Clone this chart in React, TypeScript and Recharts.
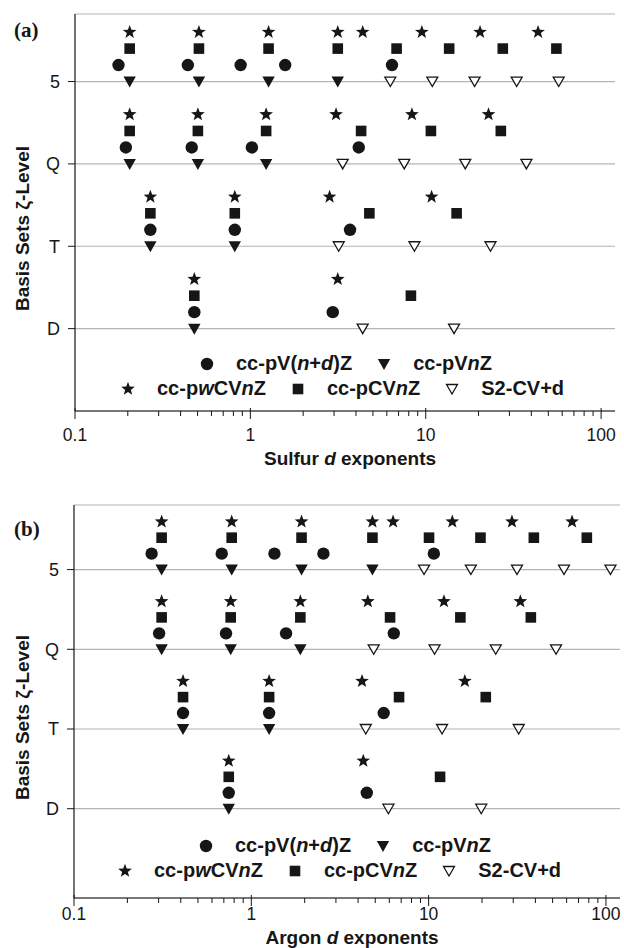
import React from 'react';
import { ScatterChart, Scatter, XAxis, YAxis, CartesianGrid, Legend, Label } from 'recharts';

// basis-set levels, bottom to top
const levels = ['D', 'T', 'Q', '5'];

// each list: exponents per level [D, T, Q, 5]
const sulfurPVndZ = [[0.479, 2.95], [0.269, 0.815, 3.7], [0.195, 0.463, 1.02, 4.15], [0.177, 0.44, 0.88, 1.58, 6.42]];
const sulfurPVnZ = [[0.479], [0.269, 0.815], [0.205, 0.502, 1.23], [0.205, 0.509, 1.27, 3.15]];
const sulfurPwCVnZ = [[0.479, 3.15], [0.269, 0.815, 2.83, 10.8], [0.205, 0.502, 1.23, 3.08, 8.34, 22.8], [0.205, 0.509, 1.27, 3.15, 4.37, 9.5, 20.4, 43.7]];
const sulfurPCVnZ = [[0.479, 8.23], [0.269, 0.815, 4.77, 15.0], [0.205, 0.502, 1.23, 4.28, 10.7, 26.8], [0.205, 0.509, 1.27, 3.15, 6.82, 13.6, 27.5, 55.6]];
const sulfurS2CVd = [[4.37, 14.5], [3.19, 8.62, 23.4], [3.36, 7.54, 16.8, 37.5], [6.28, 10.9, 19.0, 33.0, 57.3]];

const argonPVndZ = [[0.746, 4.48], [0.412, 1.26, 5.58], [0.302, 0.72, 1.57, 6.36], [0.274, 0.681, 1.35, 2.55, 10.7]];
const argonPVnZ = [[0.746], [0.412, 1.26], [0.312, 0.765, 1.89], [0.312, 0.775, 1.92, 4.82]];
const argonPwCVnZ = [[0.746, 4.28], [0.412, 1.26, 4.21, 16.0], [0.312, 0.765, 1.89, 4.54, 12.2, 32.9], [0.312, 0.775, 1.92, 4.82, 6.3, 13.6, 29.5, 64.4]];
const argonPCVnZ = [[0.746, 11.6], [0.412, 1.26, 6.81, 21.0], [0.312, 0.765, 1.89, 6.06, 15.1, 37.7], [0.312, 0.775, 1.92, 4.82, 10.05, 19.6, 39.2, 78.0]];
const argonS2CVd = [[5.93, 19.8], [4.42, 11.9, 32.2], [4.9, 10.8, 23.9, 52.3], [9.42, 17.3, 31.5, 58.0, 106]];

// vertical offset of each family above its level line
const offsets = { pVnZ: 0, pVndZ: 0.2, pCVnZ: 0.4, pwCVnZ: 0.6, s2: 0 };

const xTicks = [0.1, 0.2, 0.3, 0.4, 0.5, 0.6, 0.7, 0.8, 0.9, 1, 2, 3, 4, 5, 6, 7, 8, 9, 10, 20, 30, 40, 50, 60, 70, 80, 90, 100];
const majorTicks = [0.1, 1, 10, 100];

const ink = '#161616';
const sans = '"Liberation Sans", Arial, Helvetica, sans-serif';

const toPoints = (rows: number[][], offset: number) =>
  rows.flatMap((xs, i) => xs.map((x) => ({ x, y: i + 1 + offset })));

const starPath = (cx: number, cy: number, R: number, r: number) => {
  let d = '';
  for (let k = 0; k < 10; k++) {
    const a = (-90 + k * 36) * Math.PI / 180;
    const rad = k % 2 ? r : R;
    d += (k ? 'L' : 'M') + (cx + rad * Math.cos(a)).toFixed(2) + ',' + (cy + rad * Math.sin(a)).toFixed(2);
  }
  return d + 'Z';
};

const Dot = ({ cx, cy }: any) => <circle cx={cx} cy={cy} r={6.2} fill={ink} />;
const Box = ({ cx, cy }: any) => <rect x={cx - 5.3} y={cy - 5.3} width={10.6} height={10.6} fill={ink} />;
const TriDown = ({ cx, cy }: any) => <path d={`M${cx - 6.2},${cy - 5} L${cx + 6.2},${cy - 5} L${cx},${cy + 6} Z`} fill={ink} />;
const TriOpen = ({ cx, cy }: any) => (
  <path d={`M${cx - 5.5},${cy - 4.5} L${cx + 5.5},${cy - 4.5} L${cx},${cy + 5} Z`} fill="#fff" stroke={ink} strokeWidth={1.3} />
);
const Star = ({ cx, cy }: any) => <path d={starPath(cx, cy, 7.2, 3)} fill={ink} />;

const names = {
  pVndZ: <>cc-pV(<i>n</i>+<i>d</i>)Z</>,
  pVnZ: <>cc-pV<i>n</i>Z</>,
  pwCVnZ: <>cc-p<i>w</i>CV<i>n</i>Z</>,
  pCVnZ: <>cc-pCV<i>n</i>Z</>,
  s2: <>S2-CV+d</>,
};

const shapes: Record<string, any> = { pVndZ: Dot, pVnZ: TriDown, pwCVnZ: Star, pCVnZ: Box, s2: TriOpen };
const legendRows = [['pVndZ', 'pVnZ'], ['pwCVnZ', 'pCVnZ', 's2']];

const LegendIcon = ({ k }: { k: string }) => {
  const S = shapes[k];
  return (
    <svg width={16} height={16} style={{ display: 'block' }}>
      <S cx={8} cy={8} />
    </svg>
  );
};

const LegendBox = ({ lefts }: { lefts: number[] }) => (
  <div style={{ fontFamily: sans, fontWeight: 'bold', fontSize: 20, color: ink, textAlign: 'left' }}>
    {legendRows.map((row, ri) => (
      <div key={ri} style={{ display: 'flex', alignItems: 'center', height: 25, paddingLeft: lefts[ri] }}>
        {row.map((k, i) => (
          <div key={k} style={{ display: 'flex', alignItems: 'center', marginLeft: i ? 24 : 0 }}>
            <LegendIcon k={k} />
            <span style={{ marginLeft: 21, whiteSpace: 'nowrap' }}>{(names as any)[k]}</span>
          </div>
        ))}
      </div>
    ))}
  </div>
);

const makeTick = (labelDy: number) => (props: any) => {
  const { x, y, payload } = props;
  const v = payload.value;
  const major = majorTicks.includes(v);
  return (
    <g>
      <line x1={x} x2={x} y1={major ? y - 3 : y} y2={major ? y + 8 : y + 5} stroke={ink} strokeWidth={1} />
      {major && (
        <text x={x} y={y + labelDy} textAnchor="middle" fontFamily={sans} fontSize={17.5} fill={ink}>
          {v}
        </text>
      )}
    </g>
  );
};

type PanelProps = {
  tag: string;
  element: string;
  data: Record<string, number[][]>;
  height: number;
  margin: { top: number; right: number; bottom: number; left: number };
  axisHeight: number;
  yDomain: [number, number];
  labelDy: number;
  titleDy: number;
  tagTop: number;
  legendTop: number;
  legendLefts: number[];
};

const Panel = ({ tag, element, data, height, margin, axisHeight, yDomain, labelDy, titleDy, tagTop, legendTop, legendLefts }: PanelProps) => (
  <div style={{ position: 'relative', width: 624, height }}>
    <ScatterChart width={624} height={height} margin={margin}>
      <CartesianGrid vertical={false} stroke="#b4b4b4" strokeWidth={1.2} />
      <XAxis
        type="number"
        dataKey="x"
        scale="log"
        domain={[0.1, 120]}
        allowDataOverflow
        ticks={xTicks}
        interval={0}
        tick={makeTick(labelDy)}
        tickLine={false}
        tickSize={0}
        tickMargin={0}
        height={axisHeight}
        axisLine={{ stroke: ink, strokeWidth: 1.2 }}
      >
        <Label
          content={(p: any) => {
            const vb = p.viewBox;
            return (
              <text x={vb.x + vb.width / 2 + 5} y={vb.y + titleDy} textAnchor="middle" fontFamily={sans} fontWeight="bold" fontSize={19} fill={ink}>
                {element} <tspan fontStyle="italic">d</tspan> exponents
              </text>
            );
          }}
        />
      </XAxis>
      <YAxis
        type="number"
        dataKey="y"
        domain={yDomain}
        allowDataOverflow
        ticks={[1, 2, 3, 4]}
        tickFormatter={(v: number) => levels[v - 1]}
        width={40}
        tickSize={7}
        tickMargin={8}
        tick={{ fontFamily: sans, fontSize: 18, fill: ink }}
        tickLine={{ stroke: ink }}
        axisLine={{ stroke: ink, strokeWidth: 1.2 }}
      >
        <Label
          content={(p: any) => {
            const vb = p.viewBox;
            const cy = vb.y + vb.height / 2 + 16;
            return (
              <text x={22} y={cy} transform={`rotate(-90, 22, ${cy})`} textAnchor="middle" dominantBaseline="central" fontFamily={sans} fontWeight="bold" fontSize={19} fill={ink}>
                Basis Sets ζ-Level
              </text>
            );
          }}
        />
      </YAxis>
      <Legend
        layout="horizontal"
        verticalAlign="middle"
        align="center"
        wrapperStyle={{ position: 'absolute', top: legendTop, left: 0, width: 624 }}
        content={() => <LegendBox lefts={legendLefts} />}
      />
      {Object.keys(shapes).map((k) => (
        <Scatter
          key={k}
          name={k}
          data={toPoints(data[k], (offsets as any)[k])}
          shape={shapes[k]}
          isAnimationActive={false}
        />
      ))}
    </ScatterChart>
    <div style={{ position: 'absolute', left: 14, top: tagTop, fontFamily: '"Liberation Serif", "Times New Roman", serif', fontWeight: 'bold', fontSize: 21, color: ink }}>
      {tag}
    </div>
  </div>
);

export default function App() {
  return (
    <div style={{ position: 'absolute', left: 0, top: 0, width: 624, height: 948, background: '#fff' }}>
      <Panel
        tag="(a)"
        element="Sulfur"
        data={{ pVndZ: sulfurPVndZ, pVnZ: sulfurPVnZ, pwCVnZ: sulfurPwCVnZ, pCVnZ: sulfurPCVnZ, s2: sulfurS2CVd }}
        height={470}
        margin={{ top: 14, right: 9, bottom: 0, left: 35 }}
        axisHeight={59}
        yDomain={[0, 4.82]}
        labelDy={30}
        titleDy={54}
        tagTop={18}
        legendTop={351}
        legendLefts={[199, 120]}
      />
      <Panel
        tag="(b)"
        element="Argon"
        data={{ pVndZ: argonPVndZ, pVnZ: argonPVnZ, pwCVnZ: argonPwCVnZ, pCVnZ: argonPCVnZ, s2: argonS2CVd }}
        height={478}
        margin={{ top: 35, right: 4, bottom: 0, left: 34 }}
        axisHeight={50}
        yDomain={[-0.12, 4.81]}
        labelDy={22}
        titleDy={46}
        tagTop={47}
        legendTop={363}
        legendLefts={[198, 117]}
      />
    </div>
  );
}
